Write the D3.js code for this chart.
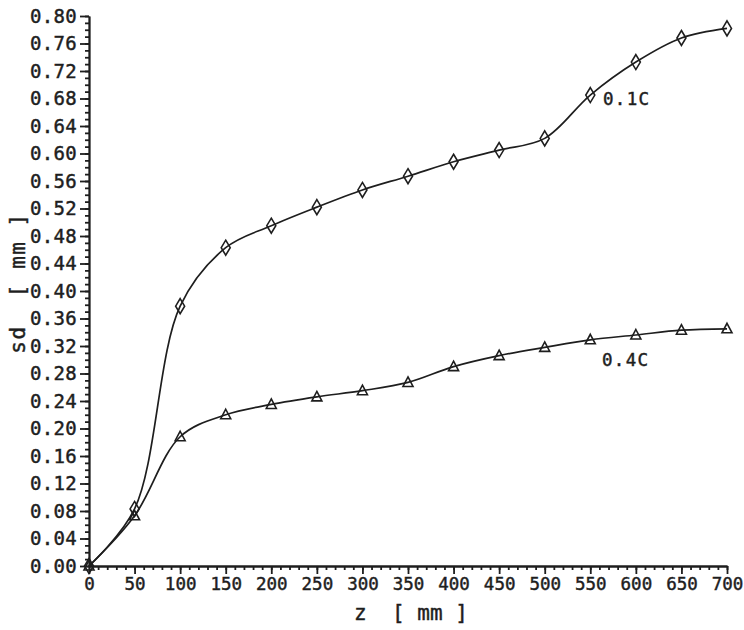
<!DOCTYPE html>
<html>
<head>
<meta charset="utf-8">
<script src="https://cdn.jsdelivr.net/npm/d3@7"></script>
<style>
  html, body { margin:0; padding:0; background:#fff; }
  svg text { font-family:"DejaVu Sans Mono", monospace; fill:#1e1e1e; white-space:pre;
             stroke:#1e1e1e; stroke-width:0.45px; }
</style>
</head>
<body>
<div id="chart"></div>
<script>
// values (z in mm, shell thickness in mm)
var zPos = [0, 50, 100, 150, 200, 250, 300, 350, 400, 450, 500, 550, 600, 650, 700];
var s01C = [0.000, 0.083, 0.378, 0.463, 0.495, 0.522, 0.547, 0.567, 0.588, 0.605, 0.622, 0.685, 0.733, 0.768, 0.782];
var s04C = [0.000, 0.073, 0.188, 0.220, 0.235, 0.246, 0.255, 0.267, 0.290, 0.306, 0.318, 0.329, 0.336, 0.343, 0.345];
var seriesNames = ["0.1C", "0.4C"];
var yMajor = d3.range(0, 0.801, 0.04);
var yMinor = d3.range(0, 0.801, 0.01);
var xMajor = d3.range(0, 701, 50);
var xMinor = d3.range(0, 701, 10);

var W = 744, H = 630, INK = "#1e1e1e";
var svg = d3.select("#chart").append("svg").attr("width", W).attr("height", H);

var x = d3.scaleLinear().domain([0, 700]).range([89, 727]);
var y = d3.scaleLinear().domain([0, 0.8]).range([566, 16]);

/* ---- axes: minor first (no labels), then majors with labels ---- */
function styleAxis(g) {
  g.selectAll("path,line").attr("stroke", INK).attr("stroke-width", 1.8);
  g.selectAll("text").attr("fill", INK);
}
svg.append("g").attr("transform", "translate(" + x(0) + ",0)")
  .call(d3.axisLeft(y).tickValues(yMinor).tickSize(4).tickSizeOuter(0).tickFormat(""))
  .call(styleAxis);
svg.append("g").attr("transform", "translate(" + x(0) + ",0)")
  .call(d3.axisLeft(y).tickValues(yMajor).tickSize(9).tickSizeOuter(0).tickPadding(3)
    .tickFormat(d3.format(".2f")))
  .call(styleAxis)
  .call(function(g){ g.selectAll("text").attr("font-size", 19)
    .attr("font-family", "DejaVu Sans Mono").style("letter-spacing", "0.3px"); });

svg.append("g").attr("transform", "translate(0," + y(0) + ")")
  .call(d3.axisBottom(x).tickValues(xMinor).tickSize(4).tickSizeOuter(0).tickFormat(""))
  .call(styleAxis);
svg.append("g").attr("transform", "translate(0," + y(0) + ")")
  .call(d3.axisBottom(x).tickValues(xMajor).tickSize(8).tickSizeOuter(0).tickPadding(4)
    .tickFormat(d3.format("d")))
  .call(styleAxis)
  .call(function(g){ g.selectAll("text").attr("font-size", 17.5)
    .attr("font-family", "DejaVu Sans Mono"); });

/* ---- axis titles ---- */
svg.append("text").attr("x", 411).attr("y", 620).attr("text-anchor", "middle")
  .attr("font-size", 21).text("z  [ mm ]");
svg.append("text").attr("transform", "translate(25,283) rotate(-90)")
  .attr("text-anchor", "middle").attr("font-size", 21).style("letter-spacing", "1.5px")
  .text("sd  [ mm ]");

/* ---- curves ---- */
var line = d3.line().x(function(d){ return x(d[0]); }).y(function(d){ return y(d[1]); })
  .curve(d3.curveCatmullRom.alpha(0.5));
var d01 = zPos.map(function(z, i){ return [z, s01C[i]]; });
var d04 = zPos.map(function(z, i){ return [z, s04C[i]]; });
[d01, d04].forEach(function(d){
  svg.append("path").datum(d).attr("d", line).attr("fill", "none")
    .attr("stroke", INK).attr("stroke-width", 1.7);
});

// diamonds (0.1C)
svg.append("g").selectAll("path").data(d01).enter().append("path")
  .attr("transform", function(d){ return "translate(" + x(d[0]) + "," + y(d[1]) + ")"; })
  .attr("d", "M0,-7.5L4.5,0L0,7.5L-4.5,0Z")
  .attr("fill", "none").attr("stroke", INK).attr("stroke-width", 1.6);
// triangles (0.4C)
svg.append("g").selectAll("path").data(d04).enter().append("path")
  .attr("transform", function(d){ return "translate(" + x(d[0]) + "," + y(d[1]) + ")"; })
  .attr("d", "M0,-5.5L5,4L-5,4Z")
  .attr("fill", "none").attr("stroke", INK).attr("stroke-width", 1.6);

/* ---- series labels ---- */
svg.append("text").attr("x", 603).attr("y", 105).attr("font-size", 17.5)
  .style("letter-spacing", "1.3px").text(seriesNames[0]);
svg.append("text").attr("x", 602).attr("y", 366).attr("font-size", 17.5)
  .style("letter-spacing", "1.3px").text(seriesNames[1]);
</script>
</body>
</html>
